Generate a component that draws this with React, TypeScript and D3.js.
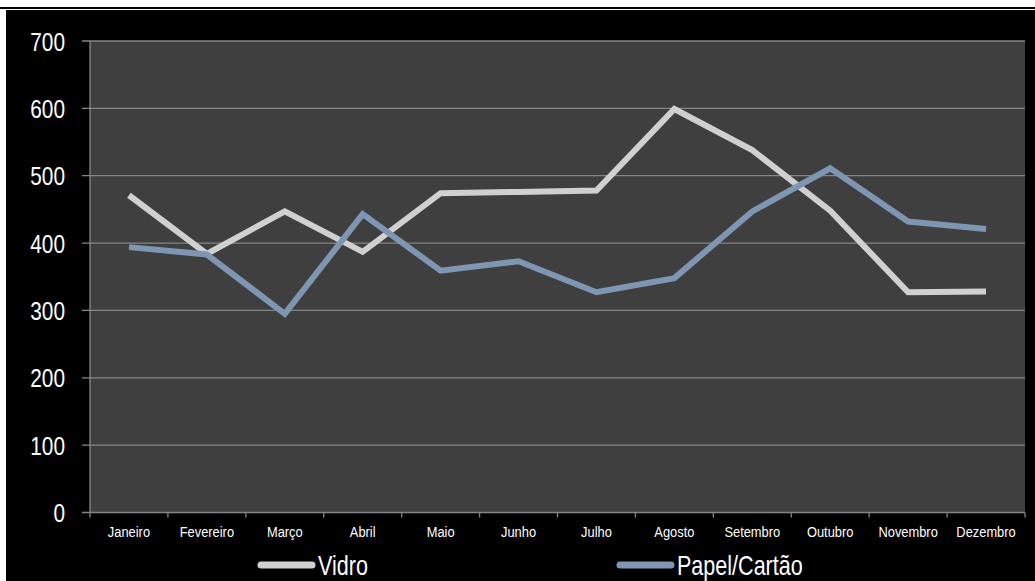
import React from "react";
import * as d3 from "d3";

const months = ["Janeiro","Fevereiro","Março","Abril","Maio","Junho","Julho","Agosto","Setembro","Outubro","Novembro","Dezembro"];
const vidro = [471, 384, 447, 387, 474, 476, 478, 599, 538, 448, 327, 328];
const papel = [394, 383, 295, 443, 359, 373, 327, 348, 447, 511, 432, 421];
const yTicks = [0, 100, 200, 300, 400, 500, 600, 700];
const seriesNames = ["Vidro", "Papel/Cartão"];
const seriesColors = ["#d0d0d0", "#7f96b3"];

const W = 1035, H = 581;
const left = 90, right = 1025, top = 41, bottom = 512.5;
const font = "'Liberation Sans', Arial, sans-serif";

function T(props: { x: number; y: number; size: number; sx: number; anchor?: string; children: React.ReactNode }) {
  return (
    <text
      transform={`translate(${props.x},${props.y}) scale(${props.sx},1)`}
      textAnchor={props.anchor || "start"}
      fill="#ffffff"
      fontSize={props.size}
      fontFamily={font}
    >
      {props.children}
    </text>
  );
}

export default function App() {
  const x = d3.scaleBand<string>().domain(months).range([left, right]);
  const y = d3.scaleLinear().domain([0, 700]).range([bottom, top]);
  const line = d3.line<number>()
    .x((_, i) => (x(months[i]) as number) + x.bandwidth() / 2)
    .y((d) => y(d));
  const data = [vidro, papel];
  const boundaries = months.map((m) => x(m) as number).concat([right]);
  const legendX = [258, 617];
  return (
    <svg width={W} height={H} style={{ position: "absolute", left: 0, top: 0 }}>
      <rect x={0} y={0} width={W} height={H} fill="#ffffff" />
      <rect x={0} y={7} width={W} height={2} fill="#000000" />
      <rect x={6} y={10} width={W - 6} height={H - 10} fill="#000000" />
      <rect x={left} y={top} width={right - left} height={bottom - top} fill="#3f3f3f" />
      {yTicks.map((t) => (
        <g key={t}>
          <line x1={left - 8} x2={right} y1={y(t)} y2={y(t)} stroke="#868686" strokeWidth={1.3} />
          <T x={65} y={y(t) + 9.5} size={26} sx={0.8} anchor="end">{t}</T>
        </g>
      ))}
      <line x1={left} x2={left} y1={top} y2={bottom} stroke="#8a8a8a" strokeWidth={1.3} />
      {boundaries.map((b, i) => (
        <line key={i} x1={b} x2={b} y1={bottom} y2={bottom + 5} stroke="#868686" strokeWidth={1.3} />
      ))}
      {months.map((m) => (
        <T key={m} x={(x(m) as number) + x.bandwidth() / 2} y={536.7} size={14} sx={0.92} anchor="middle">{m}</T>
      ))}
      {data.map((d, i) => (
        <path key={i} d={line(d) as string} fill="none" stroke={seriesColors[i]} strokeWidth={6} strokeLinejoin="miter" />
      ))}
      {seriesNames.map((n, i) => {
        const lx = legendX[i];
        return (
          <g key={n}>
            <line x1={lx + 3} x2={lx + 54} y1={565} y2={565} stroke={seriesColors[i]} strokeWidth={7} strokeLinecap="round" />
            <T x={lx + 60} y={575} size={28} sx={0.77}>{n}</T>
          </g>
        );
      })}
    </svg>
  );
}
